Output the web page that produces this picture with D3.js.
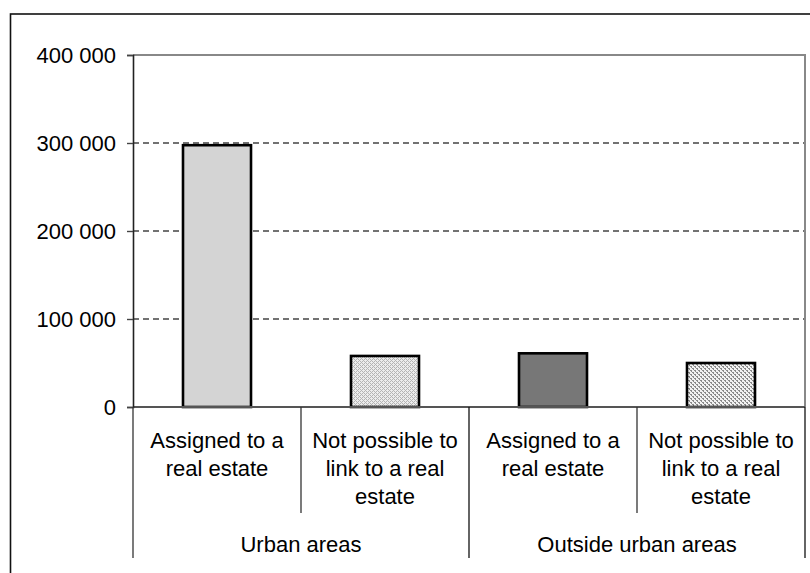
<!DOCTYPE html>
<html>
<head>
<meta charset="utf-8">
<script src="https://cdn.jsdelivr.net/npm/d3@7"></script>
<style>
  html, body { margin: 0; padding: 0; background: #fff; }
  svg { display: block; }
  text { font-family: Arial, "Liberation Sans", sans-serif; fill: #000; }
</style>
</head>
<body>
<svg id="chart" width="810" height="573"></svg>
<script>
// Categories (two-level axis) and values
const categories = [
  ["Assigned to a", "real estate"],
  ["Not possible to", "link to a real", "estate"],
  ["Assigned to a", "real estate"],
  ["Not possible to", "link to a real", "estate"]
];
const groups = ["Urban areas", "Outside urban areas"];
const groupOfCategory = [0, 0, 1, 1];
const values = [297500, 58000, 61000, 50000];
const yTicks = [0, 100000, 200000, 300000, 400000];

const svg = d3.select("#chart");
const plot = { left: 133, right: 805, top: 55, bottom: 407 };

// Patterns for the hatched bars
const defs = svg.append("defs");
const p1 = defs.append("pattern").attr("id", "weave").attr("patternUnits", "userSpaceOnUse")
  .attr("width", 4).attr("height", 4);
p1.append("rect").attr("width", 4).attr("height", 4).attr("fill", "#ececec");
[[0,3],[1,2],[2,1],[3,0],[0,1],[2,3]].forEach(([x, y]) =>
  p1.append("rect").attr("x", x).attr("y", y).attr("width", 1).attr("height", 1).attr("fill", "#b4b4b4"));

const p2 = defs.append("pattern").attr("id", "diag").attr("patternUnits", "userSpaceOnUse")
  .attr("width", 4).attr("height", 4);
p2.append("rect").attr("width", 4).attr("height", 4).attr("fill", "#f2f2f2");
[[0,0],[1,1],[2,2],[3,3],[1,0],[3,2]].forEach(([x, y]) =>
  p2.append("rect").attr("x", x).attr("y", y).attr("width", 1).attr("height", 1).attr("fill", "#8a8a8a"));

const fills = ["#d4d4d4", "url(#weave)", "#777777", "url(#diag)"];

// Outer frame
svg.append("rect").attr("x", 10.5).attr("y", 14).attr("width", 820).attr("height", 620)
  .attr("fill", "none").attr("stroke", "#111").attr("stroke-width", 1.6);

const x = d3.scaleBand().domain(d3.range(categories.length))
  .range([plot.left, plot.right]).paddingInner(0).paddingOuter(0);
const y = d3.scaleLinear().domain([0, 400000]).range([plot.bottom, plot.top]);

// Dashed gridlines
svg.append("g").selectAll("line").data(yTicks.filter(t => t > 0 && t < 400000)).join("line")
  .attr("x1", plot.left).attr("x2", plot.right)
  .attr("y1", d => y(d)).attr("y2", d => y(d))
  .attr("stroke", "#444").attr("stroke-width", 1.3).attr("stroke-dasharray", "6,4");

// Plot-area border (top and right, grey)
svg.append("line").attr("x1", plot.left).attr("x2", plot.right + 1)
  .attr("y1", y(400000)).attr("y2", y(400000)).attr("stroke", "#888").attr("stroke-width", 2);
svg.append("line").attr("x1", plot.right).attr("x2", plot.right)
  .attr("y1", plot.top).attr("y2", plot.bottom).attr("stroke", "#888").attr("stroke-width", 2);

// Bars
const barW = 68;
svg.append("g").selectAll("rect").data(values).join("rect")
  .attr("x", (d, i) => x(i) + x.bandwidth() / 2 - barW / 2)
  .attr("y", d => y(d))
  .attr("width", barW)
  .attr("height", d => y(0) - y(d))
  .attr("fill", (d, i) => fills[i])
  .attr("stroke", "#000").attr("stroke-width", 2.6);

// Baseline
svg.append("line").attr("x1", plot.left).attr("x2", plot.right)
  .attr("y1", y(0)).attr("y2", y(0)).attr("stroke", "#555").attr("stroke-width", 2);

// Y axis
const yAxis = d3.axisLeft(y).tickValues(yTicks).tickSize(6).tickPadding(11)
  .tickFormat(d => d3.format(",")(d).replace(/,/g, " "));
const gy = svg.append("g").attr("transform", `translate(${plot.left},0)`).call(yAxis);
gy.select(".domain").attr("stroke", "#222").attr("stroke-width", 1.6);
gy.selectAll(".tick line").attr("stroke", "#444").attr("stroke-width", 1.4);
gy.selectAll(".tick text").attr("font-size", 22).attr("font-family", "Arial, 'Liberation Sans', sans-serif")
  .attr("fill", "#000").attr("dy", "0.36em");

// Category separators below the axis
const sepBottomShort = 513, sepBottomLong = 558;
const bounds = d3.range(categories.length + 1).map(i => i < categories.length ? x(i) : plot.right);
svg.append("g").selectAll("line").data(bounds).join("line")
  .attr("x1", d => d).attr("x2", d => d)
  .attr("y1", plot.bottom)
  .attr("y2", (d, i) => (i % 2 === 0 ? sepBottomLong : sepBottomShort))
  .attr("stroke", (d, i) => i === 2 || i === 4 ? "#111" : "#333").attr("stroke-width", 1.3);

// Category labels
const lineH = 28;
categories.forEach((lines, i) => {
  const t = svg.append("text").attr("text-anchor", "middle").attr("font-size", 22);
  lines.forEach((s, k) => t.append("tspan")
    .attr("x", x(i) + x.bandwidth() / 2).attr("y", 448 + k * lineH).text(s));
});

// Group labels
groups.forEach((g, gi) => {
  const idx = d3.range(categories.length).filter(i => groupOfCategory[i] === gi);
  const cx = (x(idx[0]) + x(idx[idx.length - 1]) + x.bandwidth()) / 2;
  svg.append("text").attr("x", cx).attr("y", 552).attr("text-anchor", "middle")
    .attr("font-size", 22).text(g);
});
</script>
</body>
</html>
